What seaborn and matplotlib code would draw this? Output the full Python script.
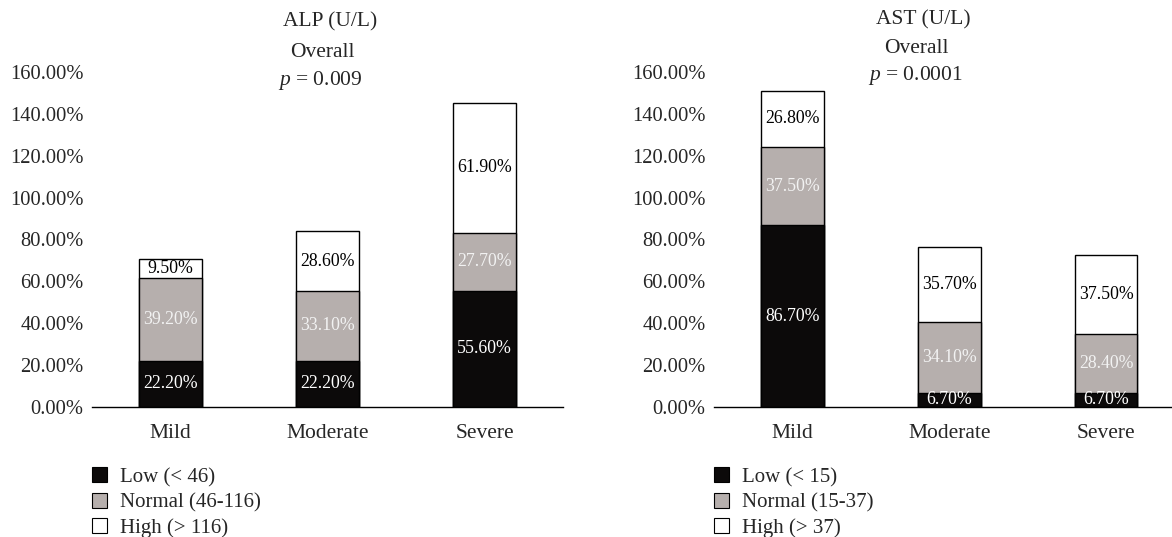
import numpy as np
import pandas as pd
import matplotlib
matplotlib.use("Agg")
import matplotlib.pyplot as plt
from matplotlib.patches import Patch
import seaborn as sns

# Data (percent of patients per severity group)
severity = ["Mild", "Moderate", "Severe"]

alp_low = [22.2, 22.2, 55.6]
alp_normal = [39.2, 33.1, 27.7]
alp_high = [9.5, 28.6, 61.9]

ast_low = [86.7, 6.7, 6.7]
ast_normal = [37.5, 34.1, 28.4]
ast_high = [26.8, 35.7, 37.5]

alp_legend = ["Low (< 46)", "Normal (46-116)", "High (> 116)"]
ast_legend = ["Low (< 15)", "Normal (15-37)", "High (> 37)"]

alp_title = ["ALP (U/L)", "Overall", "$\\it{p}$ = 0.009"]
ast_title = ["AST (U/L)", "Overall", "$\\it{p}$ = 0.0001"]

yticks = [0, 20, 40, 60, 80, 100, 120, 140, 160]

sns.set_theme(style="white")
plt.rcParams["font.family"] = ["Liberation Serif", "DejaVu Serif"]
plt.rcParams["mathtext.fontset"] = "custom"
plt.rcParams["mathtext.it"] = "Liberation Serif:italic"
plt.rcParams["mathtext.rm"] = "Liberation Serif"

BLACK = "#0c0a0a"
GREY = "#b6afad"
WHITE = "#ffffff"
colors = [BLACK, GREY, WHITE]
text_colors = ["white", "#f2f2f2", "black"]


def stacked_panel(ax, low, normal, high, legend_labels):
    df = pd.DataFrame({"severity": severity, "Low": low, "Normal": normal, "High": high})
    df["c_low"] = df["Low"]
    df["c_normal"] = df["Low"] + df["Normal"]
    df["c_high"] = df["c_normal"] + df["High"]

    # draw tallest cumulative bar first, then overlay the lower parts
    for col, c in [("c_high", WHITE), ("c_normal", GREY), ("c_low", BLACK)]:
        sns.barplot(data=df, x="severity", y=col, color=c, saturation=1,
                    width=0.4, edgecolor="black", linewidth=1.0, ax=ax,
                    errorbar=None)

    # segment labels
    for i, row in df.iterrows():
        bottoms = [0, row["c_low"], row["c_normal"]]
        vals = [row["Low"], row["Normal"], row["High"]]
        for b, v, tc in zip(bottoms, vals, text_colors):
            ax.text(i, b + v / 2, f"{v:.2f}%", ha="center", va="center",
                    color=tc, fontsize=12.8)

    ax.set_ylim(0, 160)
    ax.set_yticks(yticks)
    ax.set_yticklabels([f"{t:.2f}%" for t in yticks])
    ax.set_xlabel("")
    ax.set_ylabel("")
    ax.tick_params(axis="y", length=0, pad=6, labelsize=14.8)
    ax.tick_params(axis="x", length=0, pad=12, labelsize=15.5)
    for s in ["left", "top", "right"]:
        ax.spines[s].set_visible(False)
    ax.spines["bottom"].set_color("black")
    ax.spines["bottom"].set_linewidth(1.0)

    handles = [Patch(facecolor=c, edgecolor="black", linewidth=0.8) for c in colors]
    ax.legend(handles, legend_labels, loc="upper left", bbox_to_anchor=(0.0, -0.18),
              frameon=False, fontsize=15, handlelength=0.72, handleheight=0.72,
              handletextpad=0.6, labelspacing=0.28, borderaxespad=0, borderpad=0)


fig = plt.figure(figsize=(11.72, 5.37), dpi=100)
ax1 = fig.add_axes([92 / 1172, 130 / 537, 471 / 1172, 335 / 537])
ax2 = fig.add_axes([714 / 1172, 130 / 537, 458 / 1172, 335 / 537])

stacked_panel(ax1, alp_low, alp_normal, alp_high, alp_legend)
stacked_panel(ax2, ast_low, ast_normal, ast_high, ast_legend)
ax1.set_xlim(-0.5, 2.5)
ax2.set_xlim(-0.5, 2.42)

for (x, ys, lines) in [((0.2816, 0.275, 0.273), (0.959, 0.903, 0.851), alp_title),
                       ((0.7875, 0.782, 0.781), (0.963, 0.909, 0.860), ast_title)]:
    for xx, yy, t in zip(x, ys, lines):
        fig.text(xx, yy, t, ha="center", va="center", fontsize=15.5)

fig.savefig("out.png", dpi=100)
